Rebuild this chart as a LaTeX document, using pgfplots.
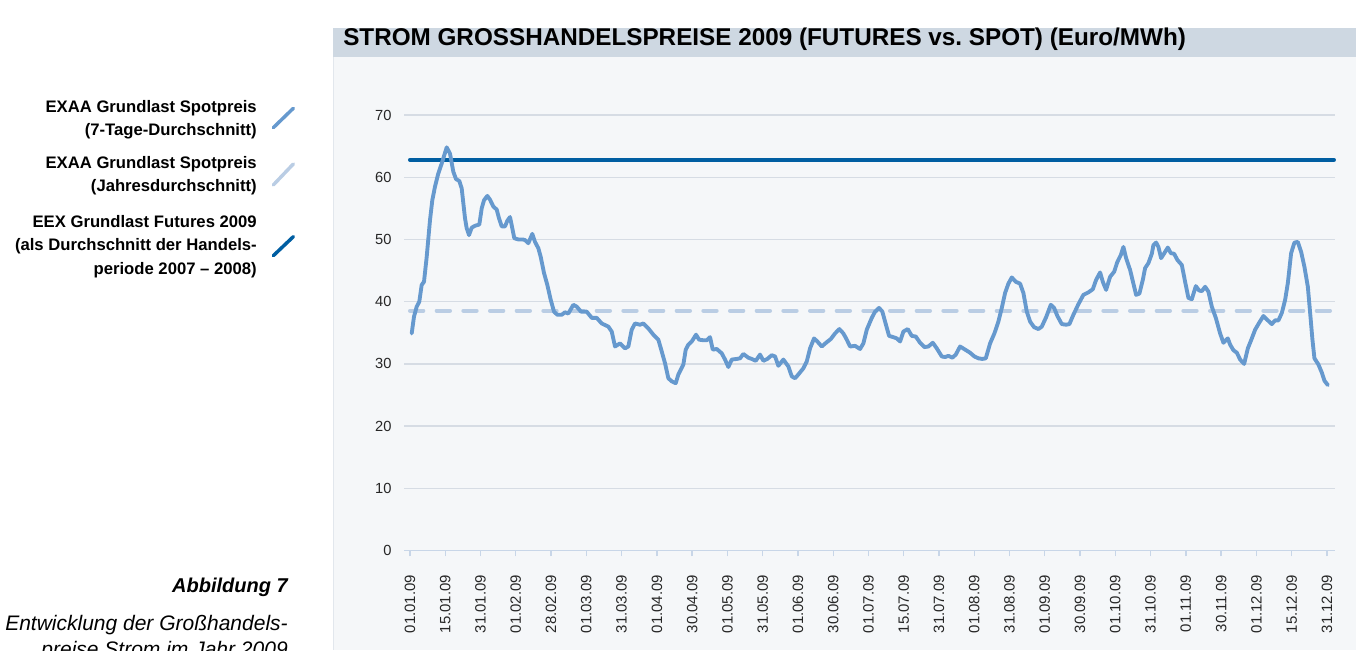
\documentclass[border=0pt]{standalone}
\usepackage{fontspec}
\setmainfont{Liberation Sans}
\usepackage{pgfplots}
\usepackage{pgfplotstable}
\pgfplotsset{compat=1.18}
\definecolor{spotcol}{RGB}{102,153,206}
\definecolor{futcol}{RGB}{0,94,162}
\definecolor{avgcol}{RGB}{186,205,228}
\definecolor{titlebar}{RGB}{206,216,226}
\definecolor{panelbg}{RGB}{245,247,249}
\definecolor{gridcol}{RGB}{214,220,228}
\definecolor{axiscol}{RGB}{200,214,232}
\definecolor{panelline}{RGB}{226,231,237}

\pgfplotstableread{
px y
411.7 34.9
414 37.6
416.7 39.2
419.3 40.0
421.7 42.7
424 43.2
426.7 47.2
430 53.1
432.3 56.3
435 58.5
438.3 60.6
441.7 62.2
446.7 64.8
450 63.8
453.3 60.9
456 59.7
459.3 59.4
461.7 58.2
465 53.4
466.7 51.8
469 50.7
471.7 51.9
475 52.2
479.3 52.4
481.7 55.0
484 56.3
487.3 57.0
490 56.4
493.3 55.3
496.7 54.8
499 53.4
501.7 52.1
505 52.1
507.3 53.0
510 53.6
512.3 51.8
514.3 50.2
518.3 50.0
522.7 50.0
525 49.9
528.3 49.4
532.3 50.9
535 49.6
538.3 48.6
540.7 47.2
544 44.6
547.3 42.7
550.7 40.3
554 38.4
557.3 37.9
561.7 37.9
565 38.3
568.3 38.1
573.3 39.5
576.7 39.2
581 38.4
586.7 38.4
591.7 37.4
596.7 37.4
601.7 36.5
608.3 36.0
611.7 35.2
615 32.8
620 33.3
625 32.5
628.3 32.8
631.7 35.5
635 36.5
640 36.3
643.3 36.5
648.3 35.7
653.3 34.7
658.3 33.9
661.7 32.0
665 30.1
668.3 27.7
671.7 27.2
675.7 26.9
678.3 28.3
683.3 29.9
685.7 32.3
688.3 33.1
691.7 33.6
696 34.7
699 33.9
703.3 33.8
706.7 33.8
710 34.3
712.7 32.3
716.7 32.4
721.7 31.7
725 30.7
728.3 29.5
731.7 30.7
736.7 30.8
740 30.9
743.3 31.6
748.3 31.0
751.7 30.8
755.7 30.5
760 31.5
763.3 30.5
767.3 30.8
771.7 31.4
775 31.2
778.3 29.7
783.3 30.7
788.3 29.6
791.7 28.0
795 27.7
798.3 28.3
803.3 29.3
806.7 30.4
810 32.5
814 34.1
817.3 33.6
821.7 32.8
826 33.4
830.7 34.0
835 34.9
839.3 35.6
843.3 34.9
846.7 33.9
850 32.8
855 32.9
860 32.4
863.3 33.3
866.7 35.5
871.7 37.4
875 38.4
879 39.0
882.3 38.4
885 36.8
889 34.5
893.3 34.3
896.7 34.1
900 33.6
903.3 35.2
907.7 35.6
911.7 34.5
915.7 34.4
920 33.4
924.3 32.7
928.3 32.8
932.7 33.4
936.7 32.5
941.7 31.2
945 31.1
948.3 31.3
952.3 31.0
955.7 31.5
960 32.8
965 32.3
970 31.8
974.3 31.2
978.3 30.9
982.3 30.8
985.7 30.9
990 33.3
994.3 34.9
998.3 36.8
1001.7 39.0
1005 41.4
1008.3 42.9
1011.7 43.9
1015.7 43.2
1020 42.9
1023.3 41.4
1026.7 38.4
1030 36.8
1034 35.9
1038.3 35.6
1041.7 36.0
1046 37.5
1050.7 39.5
1054 39.0
1057.3 37.7
1061.7 36.4
1066 36.3
1069.3 36.4
1073.3 37.9
1078.3 39.6
1083.3 41.1
1088.3 41.5
1092.7 42.0
1096 43.5
1100 44.7
1102.7 43.2
1106 41.9
1110 44.0
1114 44.8
1117.3 46.4
1120.7 47.5
1123.3 48.8
1126 47.0
1130 45.1
1133.3 42.9
1136 41.1
1139.3 41.3
1142.7 43.5
1145 45.4
1148.3 46.2
1151.7 47.7
1153.3 49.1
1156 49.5
1158.3 48.8
1161 47.0
1165 48.0
1167.7 48.7
1170.7 47.8
1174 47.7
1177.3 46.7
1181.7 45.9
1185 43.2
1188.3 40.6
1191.7 40.4
1195.7 42.5
1199 41.8
1201.7 41.7
1205 42.4
1208.3 41.6
1211.7 39.2
1215.7 37.4
1220 34.9
1223.3 33.4
1227.7 34.1
1230 33.1
1233.3 32.2
1236.7 31.8
1240 30.7
1244 30.0
1247.7 32.5
1251.7 34.1
1255 35.5
1259 36.6
1263.3 37.7
1267.7 37.0
1271.7 36.4
1275 37.0
1278.3 37.0
1281.7 38.2
1285 40.3
1287.7 43.0
1291 47.8
1294.3 49.5
1297.7 49.6
1301 48.0
1304.3 45.6
1307.7 42.4
1310 38.2
1312.3 33.9
1314.3 30.9
1318.3 29.9
1321.7 28.6
1324.3 27.3
1327.7 26.6
}\spotdata

\begin{document}
\begin{tikzpicture}
\begin{scope}[x=0.75pt,y=0.75pt]
\useasboundingbox (0,0) rectangle (1359,650);
\fill[panelbg] (333,0) rectangle (1356,593);
\fill[titlebar] (333,593) rectangle (1356,622);
\draw[panelline, line width=0.75pt] (333,0) -- (333,593);
\node[anchor=base west, inner sep=0, font=\fontsize{18.2}{20}\selectfont\bfseries] at (343,604) {STROM GROSSHANDELSPREISE 2009 (FUTURES vs.\ SPOT) (Euro/MWh)};
% legend
\begin{scope}[every node/.style={anchor=base east, inner sep=0, font=\fontsize{12.5}{15}\selectfont\bfseries}]
\node at (257,537.3) {EXAA Grundlast Spotpreis};
\node at (257,514.3) {(7-Tage-Durchschnitt)};
\node at (257,481) {EXAA Grundlast Spotpreis};
\node at (257,458.3) {(Jahresdurchschnitt)};
\node at (257,422.3) {EEX Grundlast Futures 2009};
\node at (257,399) {(als Durchschnitt der Handels-};
\node at (257,375.7) {periode 2007 -- 2008)};
\end{scope}
\draw[spotcol, line width=2.6pt, line cap=round] (273.3,522.3) -- (293.3,541.7);
\draw[avgcol, line width=2.6pt, line cap=round] (273.3,465) -- (293.3,486);
\draw[futcol, line width=2.6pt, line cap=round] (273.3,394.3) -- (293.3,413.3);
% caption
\node[anchor=base east, inner sep=0, font=\fontsize{15}{18}\selectfont\bfseries\itshape] at (288,58) {Abbildung 7};
\node[anchor=base east, inner sep=0, font=\fontsize{15.75}{18}\selectfont\itshape] at (288,20) {Entwicklung der Großhandels-};
\node[anchor=base east, inner sep=0, font=\fontsize{15.75}{18}\selectfont\itshape] at (288,-6) {preise Strom im Jahr 2009};
\end{scope}
\begin{axis}[
  at={(303pt,74.55pt)}, anchor=south west,
  width=698.25pt, height=326.7pt, scale only axis,
  xmin=-0.17, xmax=26.23, ymin=0, ymax=70,
  axis lines*=left,
  x axis line style={draw=axiscol, line width=1.1pt},
  y axis line style={draw=none},
  ytick={0,10,...,70},
  ytick style={draw=none},
  xtick={0,...,26},
  xticklabels={01.01.09,15.01.09,31.01.09,01.02.09,28.02.09,01.03.09,31.03.09,01.04.09,30.04.09,01.05.09,31.05.09,01.06.09,30.06.09,01.07.09,15.07.09,31.07.09,01.08.09,31.08.09,01.09.09,30.09.09,01.10.09,31.10.09,01.11.09,30.11.09,01.12.09,15.12.09,31.12.09},
  tick align=outside,
  major tick length=4.3pt,
  xtick style={draw=axiscol, line width=1pt},
  xticklabel style={rotate=90, anchor=east, font=\fontsize{11.2}{13}\selectfont, text=black!85},
  yticklabel style={font=\fontsize{11}{13}\selectfont, text=black!85},
  xticklabel shift=10.5pt,
  yticklabel shift=1.5pt,
  /pgf/number format/assume math mode=true,
  ymajorgrids,
  grid style={gridcol, line width=1pt},
  clip=false,
]
\addplot[futcol, line width=3pt, line cap=round] coordinates {(0,62.8) (26.2,62.8)};
\addplot[avgcol, line width=3pt, line cap=round, dash pattern=on 10pt off 10pt] coordinates {(0,38.55) (26.2,38.55)};
\addplot[spotcol, line width=2.9pt, line join=round, line cap=round] table[x expr={(\thisrowno{0}-410)/35.26}, y index=1] {\spotdata};
\end{axis}
\end{tikzpicture}
\end{document}
